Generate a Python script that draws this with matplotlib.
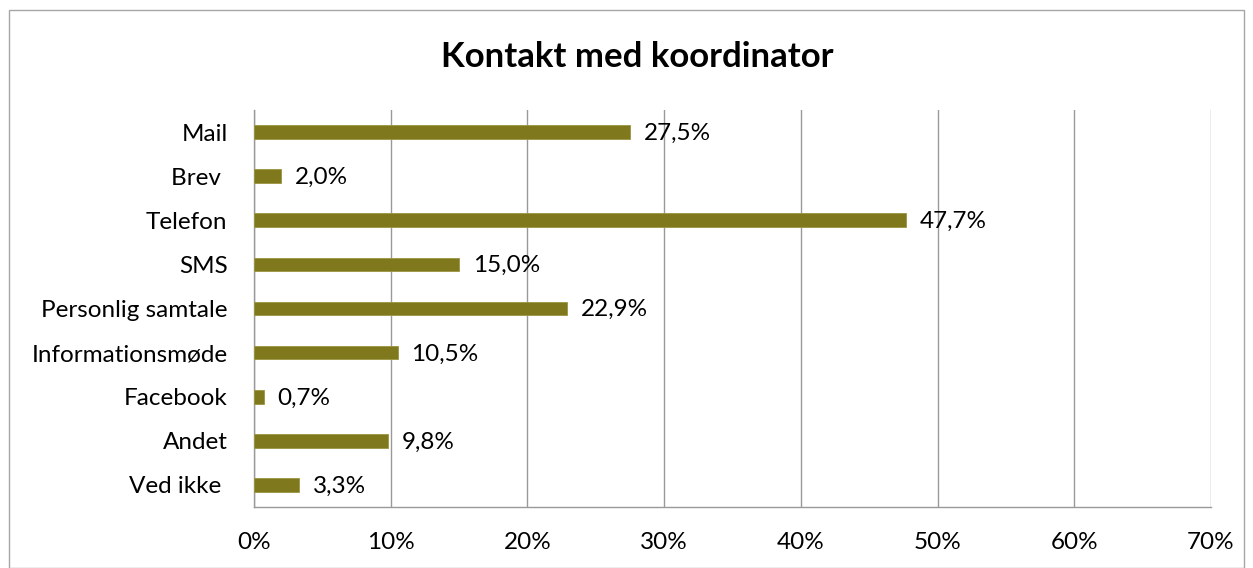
import matplotlib.pyplot as plt
from matplotlib.patches import Rectangle

categories = ['Mail', 'Brev ', 'Telefon', 'SMS', 'Personlig samtale',
              'Informationsmøde', 'Facebook', 'Andet', 'Ved ikke ']
values = [27.5, 2.0, 47.7, 15.0, 22.9, 10.5, 0.7, 9.8, 3.3]
ticks = [0, 10, 20, 30, 40, 50, 60, 70]

plt.rcParams['font.family'] = ['Lato', 'DejaVu Sans']

fig = plt.figure(figsize=(12.53, 5.68), dpi=100)
fig.patches.append(Rectangle((9 / 1253, 0), (1244 - 9) / 1253, (568 - 10) / 568,
                             transform=fig.transFigure, fill=False,
                             edgecolor='#a6a6a6', linewidth=1))

ax = fig.add_axes([254 / 1253, 1 - 507 / 568, (1211 - 254) / 1253, (507 - 110) / 568])

ypos = list(range(len(categories)))
ax.barh(ypos, values, height=0.31, color='#7f781c', edgecolor='#9b9540',
        linewidth=0.6, zorder=3)
for y, v in zip(ypos, values):
    ax.text(v + 1.0, y + 0.03, f'{v:.1f}%'.replace('.', ','), va='center', ha='left',
            fontsize=17.5, color='black', zorder=4)

ax.set_xlim(0, 70)
ax.set_ylim(len(categories) - 0.5, -0.5)
ax.set_xticks(ticks)
ax.set_xticklabels([f'{t}%' for t in ticks], fontsize=17.5)
ax.set_yticks(ypos)
ax.set_yticklabels(categories, fontsize=17.5)
ax.tick_params(axis='both', length=0)
ax.tick_params(axis='x', pad=18)
ax.tick_params(axis='y', pad=19)
ax.grid(axis='x', color='#999999', linewidth=1, zorder=0)

for side in ['top', 'right']:
    ax.spines[side].set_visible(False)
for side in ['left', 'bottom']:
    ax.spines[side].set_color('#999999')
    ax.spines[side].set_linewidth(1)

fig.text(637 / 1253, 1 - 57 / 568, 'Kontakt med koordinator', ha='center',
         va='center', fontsize=25, fontweight='bold')

fig.savefig('out.png', dpi=100)
